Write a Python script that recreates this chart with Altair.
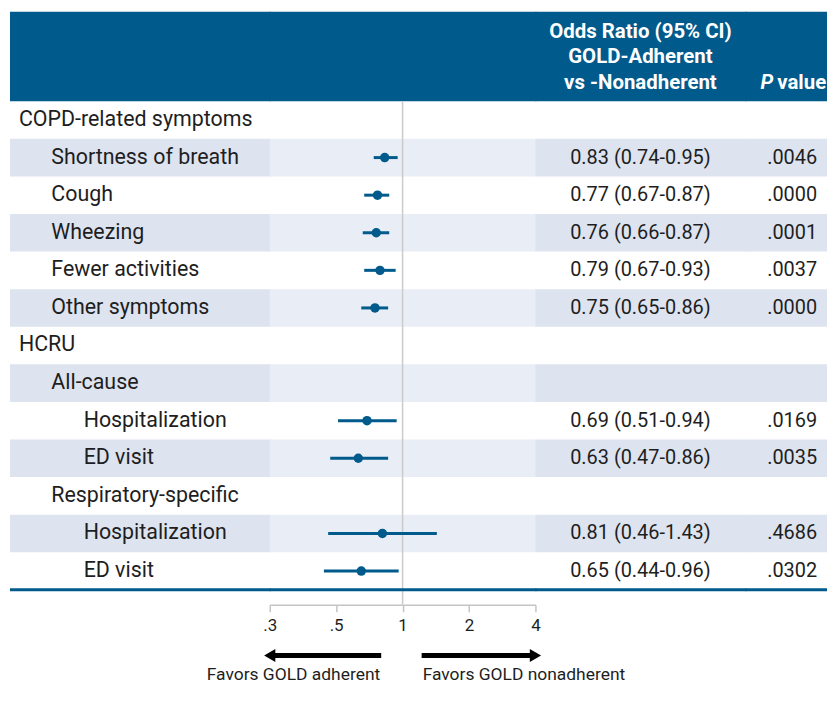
import altair as alt
import pandas as pd

# ---------------- data ----------------
labels = ["COPD-related symptoms", "Shortness of breath", "Cough", "Wheezing",
          "Fewer activities", "Other symptoms", "HCRU", "All-cause",
          "Hospitalization", "ED visit", "Respiratory-specific",
          "Hospitalization", "ED visit"]
levels = [0, 1, 1, 1, 1, 1, 0, 1, 2, 2, 1, 2, 2]
shaded = [0, 1, 0, 1, 0, 1, 0, 1, 0, 1, 0, 1, 0]
odds = [None, 0.83, 0.77, 0.76, 0.79, 0.75, None, None, 0.69, 0.63, None, 0.81, 0.65]
ci_low = [None, 0.74, 0.67, 0.66, 0.67, 0.65, None, None, 0.51, 0.47, None, 0.46, 0.44]
ci_high = [None, 0.95, 0.87, 0.87, 0.93, 0.86, None, None, 0.94, 0.86, None, 1.43, 0.96]
p_values = ["", ".0046", ".0000", ".0001", ".0037", ".0000", "", "",
            ".0169", ".0035", "", ".4686", ".0302"]
tick_values = [0.25, 0.5, 1, 2, 4]
tick_labels = [".3", ".5", "1", "2", "4"]
header_or = ["Odds Ratio (95% CI)", "GOLD-Adherent", "vs -Nonadherent"]
favors_text = ["Favors GOLD adherent", "Favors GOLD nonadherent"]
arrow_left = [0.8, 0.25]
arrow_right = [1.22, 4.0]

or_text = [f"{o:.2f} ({l:.2f}-{h:.2f})" if o is not None else ""
           for o, l, h in zip(odds, ci_low, ci_high)]

df = pd.DataFrame({
    "label": labels, "level": levels, "shaded": shaded,
    "est": odds, "lo": ci_low, "hi": ci_high,
    "or_text": or_text, "p_text": p_values,
})
df["row"] = list(range(len(labels)))
df["ymid"] = df["row"] + 0.5

one = pd.DataFrame({"k": [0]})
arrows = pd.DataFrame({
    "x1": [arrow_left[0], arrow_right[0]],
    "x2": [arrow_left[1], arrow_right[1]],
    "shape": ["triangle-left", "triangle-right"],
    "txt": favors_text,
})

# ---------------- styling ----------------
BLUE = "#005a8c"
SHADE_DARK = "#dde3ef"
SHADE_LIGHT = "#e9edf5"
FONT = "Roboto"
TXT = "#1e1e1e"
ROW_PX = 37.77
HEADER_PX = 90
N = len(labels)
H = HEADER_PX + N * ROW_PX  # panel height

yscale = alt.Scale(domain=[-HEADER_PX / ROW_PX, N], reverse=True, nice=False, zero=False)
xscale = alt.Scale(type="log", base=2, domain=[0.25, 4], nice=False)

label_expr = " : ".join(
    f"abs(datum.value - {v}) < 1e-6 ? '{t}'" for v, t in zip(tick_values, tick_labels)
) + " : ''"
xaxis = alt.Axis(values=tick_values, labelExpr=label_expr, orient="bottom", offset=15,
                 domainColor="#c4c4c4", tickColor="#c4c4c4", domainWidth=1.5, tickWidth=1.5,
                 tickSize=7, labelFontSize=17, labelFont=FONT, labelColor=TXT,
                 labelPadding=6, grid=False, title=None, labelFlush=False)


def header(width, ext):
    return alt.Chart(one).mark_rect(color=BLUE).encode(
        x=alt.value(0), x2=alt.value(width + ext), y=alt.value(0), y2=alt.value(HEADER_PX))


def shading(width, color, ext):
    return alt.Chart(df).transform_filter("datum.shaded == 1").transform_calculate(
        y1="datum.row", y2="datum.row + 1"
    ).mark_rect(color=color).encode(
        x=alt.value(0), x2=alt.value(width + ext),
        y=alt.Y("y1:Q", scale=yscale, axis=None), y2="y2:Q")


def bottom(width, ext):
    return alt.Chart(one).mark_rule(color=BLUE, strokeWidth=3).encode(
        x=alt.value(0), x2=alt.value(width + ext), y=alt.value(H))


# ---- label panel ----
W1 = 261
label_text = alt.Chart(df).mark_text(align="left", baseline="middle", font=FONT,
                                     fontSize=21.5, color=TXT).encode(
    x=alt.X("level:Q", scale=alt.Scale(domain=[0, 2], range=[9, 74]), axis=None),
    y=alt.Y("ymid:Q", scale=yscale, axis=None),
    text="label:N")
p1 = alt.layer(header(W1, 1), shading(W1, SHADE_DARK, 1), label_text,
               bottom(W1, 1)).properties(width=W1, height=H)

# ---- forest panel ----
W2 = 267
ref_line = alt.Chart(one).mark_rule(color="#cbcbcb", strokeWidth=1.5).encode(
    x=alt.X(datum=1, type="quantitative", scale=xscale, axis=xaxis),
    y=alt.value(HEADER_PX), y2=alt.value(H + 15))
base = alt.Chart(df).transform_filter("isValid(datum.est)")
ci = base.mark_rule(color=BLUE, strokeWidth=3).encode(
    x=alt.X("lo:Q", scale=xscale, axis=xaxis), x2="hi:Q",
    y=alt.Y("ymid:Q", scale=yscale, axis=None))
pts = base.mark_circle(color=BLUE, size=90, opacity=1).encode(
    x=alt.X("est:Q", scale=xscale, axis=xaxis),
    y=alt.Y("ymid:Q", scale=yscale, axis=None))
shaft = alt.Chart(arrows).mark_rule(color="black", strokeWidth=5).encode(
    x=alt.X("x1:Q", scale=xscale, axis=xaxis), x2="x2:Q", y=alt.value(H + 66))
heads = alt.Chart(arrows).mark_point(filled=True, color="black", size=170, opacity=1).encode(
    x=alt.X("x2:Q", scale=xscale, axis=xaxis), y=alt.value(H + 66),
    shape=alt.Shape("shape:N", scale=None))
fav_l = alt.Chart(arrows.iloc[[0]]).mark_text(align="right", baseline="middle", font=FONT,
                                              fontSize=17.5, color=TXT, dx=-1).encode(
    x=alt.X("x1:Q", scale=xscale, axis=xaxis), y=alt.value(H + 86), text="txt:N")
fav_r = alt.Chart(arrows.iloc[[1]]).mark_text(align="left", baseline="middle", font=FONT,
                                              fontSize=17.5, color=TXT, dx=1).encode(
    x=alt.X("x1:Q", scale=xscale, axis=xaxis), y=alt.value(H + 86), text="txt:N")
p2 = alt.layer(header(W2, 1), shading(W2, SHADE_LIGHT, 1), ref_line, ci, pts, shaft, heads,
               fav_l, fav_r, bottom(W2, 1)).properties(width=W2, height=H)

# ---- odds ratio panel ----
W3 = 211
or_txt = base.mark_text(align="center", baseline="middle", font=FONT, fontSize=20,
                        color=TXT).encode(
    x=alt.value(W3 / 2), y=alt.Y("ymid:Q", scale=yscale, axis=None), text="or_text:N")
hdr_layers = []
for i, line in enumerate(header_or):
    hdr_layers.append(alt.Chart(one).mark_text(
        align="center", baseline="middle", font=FONT, fontSize=20.5, fontWeight="bold",
        color="white", text=line).encode(x=alt.value(W3 / 2), y=alt.value(20 + 26 * i)))
p3 = alt.layer(header(W3, 1), shading(W3, SHADE_DARK, 1), or_txt, *hdr_layers,
               bottom(W3, 1)).properties(width=W3, height=H)

# ---- p value panel ----
W4 = 82
p_txt = alt.Chart(df).transform_filter("datum.p_text != ''").mark_text(
    align="center", baseline="middle", font=FONT, fontSize=20, color=TXT).encode(
    x=alt.value(47), y=alt.Y("ymid:Q", scale=yscale, axis=None), text="p_text:N")
p_hdr_p = alt.Chart(one).mark_text(align="right", baseline="middle", font=FONT, fontSize=20.5,
                                   fontWeight="bold", fontStyle="italic", color="white",
                                   text="P").encode(x=alt.value(28), y=alt.value(72))
p_hdr_v = alt.Chart(one).mark_text(align="left", baseline="middle", font=FONT, fontSize=20.5,
                                   fontWeight="bold", color="white",
                                   text="value").encode(x=alt.value(32), y=alt.value(72))
p4 = alt.layer(header(W4, 0), shading(W4, SHADE_DARK, 0), p_txt, p_hdr_p, p_hdr_v,
               bottom(W4, 0)).properties(width=W4, height=H)

chart = alt.hconcat(p1, p2, p3, p4, spacing=0, bounds="flush").properties(
    padding={"left": 0, "top": 2, "right": 0, "bottom": 5}
).configure_view(stroke=None).configure_concat(spacing=0)

chart.save("out.html", embed_options={"renderer": "svg", "actions": False})
